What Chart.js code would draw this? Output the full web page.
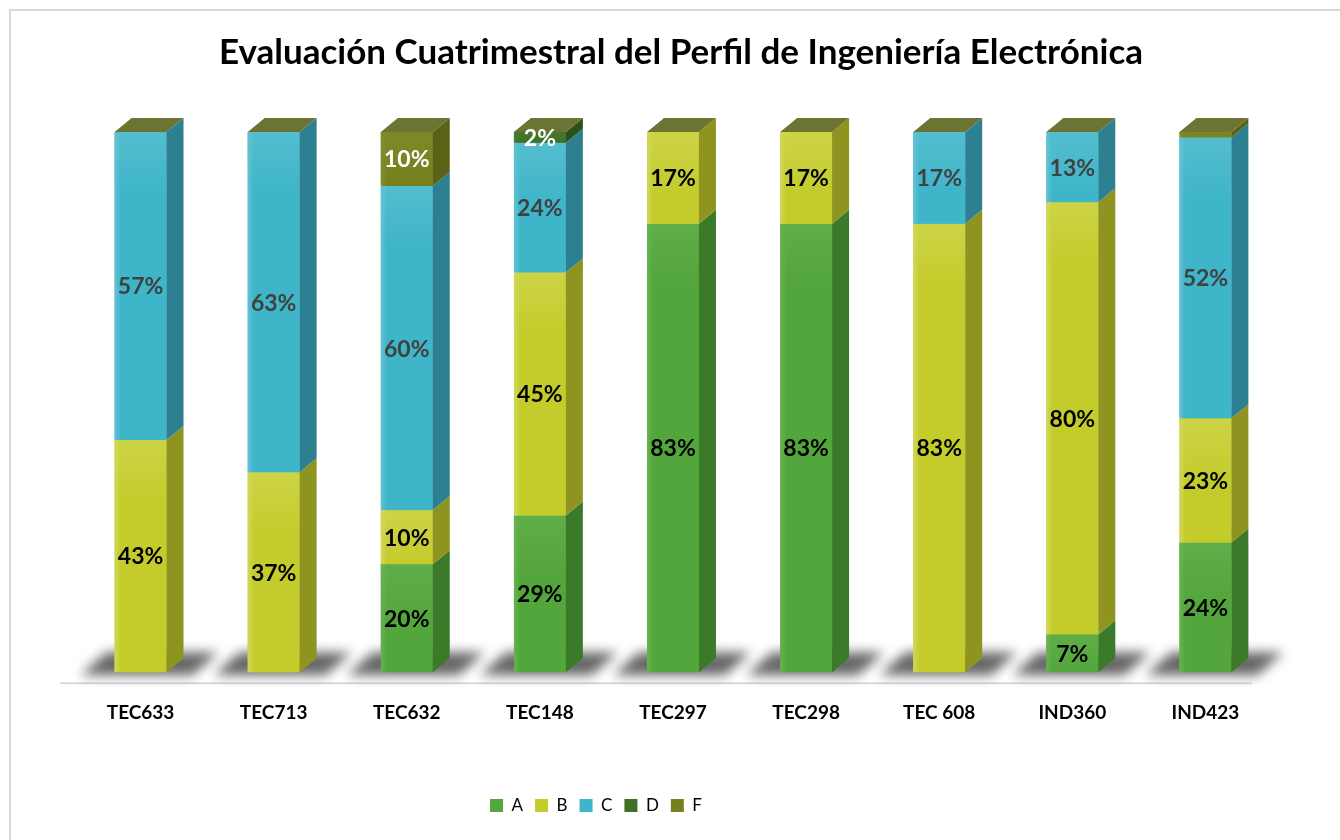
<!DOCTYPE html>
<html>
<head>
<meta charset="utf-8">
<script src="https://cdn.jsdelivr.net/npm/chart.js@4.4.0/dist/chart.umd.min.js"></script>
<style>
  html, body { margin: 0; padding: 0; background: #fff; }
  #wrap { width: 1340px; height: 840px; position: relative; }
</style>
</head>
<body>
<div id="wrap"><canvas id="c" width="1340" height="840"></canvas></div>
<script>
const categories = ['TEC633', 'TEC713', 'TEC632', 'TEC148', 'TEC297', 'TEC298', 'TEC 608', 'IND360', 'IND423'];
const seriesA = [0, 0, 20, 29, 83, 83, 0, 7, 24];
const seriesB = [43, 37, 10, 45, 17, 17, 83, 80, 23];
const seriesC = [57, 63, 60, 24, 0, 0, 17, 13, 52];
const seriesD = [0, 0, 0, 2, 0, 0, 0, 0, 0];
const seriesF = [0, 0, 10, 0, 0, 0, 0, 0, 1];
const seriesNames = ['A', 'B', 'C', 'D', 'F'];
const titleText = 'Evaluación Cuatrimestral del Perfil de Ingeniería Electrónica';

const FONT = 'Lato, "Open Sans", sans-serif';
const styles = [
  { front: '#53a63b', light: '#68b252', side: '#3a7a29', label: '#000000' },
  { front: '#c4cc2c', light: '#d2d858', side: '#8e941f', label: '#000000' },
  { front: '#3fb5c9', light: '#62c2d3', side: '#2d8092', label: '#404040' },
  { front: '#3e7128', light: '#4a7d33', side: '#2c521c', label: '#ffffff' },
  { front: '#76801f', light: '#838d2c', side: '#5a6216', label: '#ffffff' }
];
const TOP_FACE = '#6b7432';
const DX = 17, DY = -14;
const LEGEND_SHIFT = -77;
const TITLE_SHIFT = 8;

const allSeries = [seriesA, seriesB, seriesC, seriesD, seriesF];

const bar3d = {
  id: 'bar3d',
  afterLayout(chart) {
    if (chart.legend) {
      chart.legend.left += LEGEND_SHIFT;
      chart.legend.right += LEGEND_SHIFT;
    }
    if (chart.titleBlock) {
      chart.titleBlock.left += TITLE_SHIFT;
      chart.titleBlock.right += TITLE_SHIFT;
    }
  },
  beforeDraw(chart) {
    const ctx = chart.ctx;
    ctx.save();
    ctx.strokeStyle = '#d9d9d9';
    ctx.lineWidth = 2;
    ctx.strokeRect(10, 10, 1400, 900);
    ctx.restore();
  },
  beforeDatasetsDraw(chart) {
    const ctx = chart.ctx;
    const meta0 = chart.getDatasetMeta(0);
    const area = chart.chartArea;
    ctx.save();
    ctx.strokeStyle = '#d9d9d9';
    ctx.lineWidth = 2;
    ctx.beginPath();
    ctx.moveTo(60, area.bottom + 11);
    ctx.lineTo(1252, area.bottom + 11);
    ctx.stroke();
    ctx.restore();
    meta0.data.forEach(el => {
      const w = el.width;
      const l = el.x - w / 2, r = el.x + w / 2;
      const b = area.bottom;
      ctx.save();
      ctx.filter = 'blur(6px)';
      ctx.fillStyle = 'rgba(0,0,0,0.6)';
      ctx.beginPath();
      ctx.moveTo(l - 34, b + 3);
      ctx.lineTo(r + 26, b + 3);
      ctx.lineTo(r + 52, b - 20);
      ctx.lineTo(l - 8, b - 20);
      ctx.closePath();
      ctx.fill();
      ctx.restore();
    });
  },
  afterDatasetsDraw(chart) {
    const ctx = chart.ctx;
    const n = chart.data.labels.length;
    for (let i = 0; i < n; i++) {
      let topY = null, topL = 0, topR = 0;
      chart.data.datasets.forEach((ds, di) => {
        const el = chart.getDatasetMeta(di).data[i];
        const w = el.width;
        const l = el.x - w / 2, r = el.x + w / 2;
        const yt = Math.min(el.y, el.base), yb = Math.max(el.y, el.base);
        topL = l; topR = r;
        if (topY === null || yt < topY) topY = yt;
        if (yb - yt < 0.01) return;
        const g = ctx.createLinearGradient(l, 0, r, 0);
        g.addColorStop(0, styles[di].light);
        g.addColorStop(0.12, styles[di].front);
        g.addColorStop(1, styles[di].front);
        ctx.fillStyle = g;
        ctx.fillRect(l, yt, w, yb - yt);
        const gv = ctx.createLinearGradient(0, yt, 0, Math.min(yb, yt + 60));
        gv.addColorStop(0, styles[di].light + '99');
        gv.addColorStop(1, styles[di].light + '00');
        ctx.fillStyle = gv;
        ctx.fillRect(l, yt, w, Math.min(yb - yt, 60));
        ctx.fillStyle = styles[di].side;
        ctx.beginPath();
        ctx.moveTo(r, yb);
        ctx.lineTo(r, yt);
        ctx.lineTo(r + DX, yt + DY);
        ctx.lineTo(r + DX, yb + DY);
        ctx.closePath();
        ctx.fill();
      });
      ctx.fillStyle = TOP_FACE;
      ctx.beginPath();
      ctx.moveTo(topL, topY);
      ctx.lineTo(topR, topY);
      ctx.lineTo(topR + DX, topY + DY);
      ctx.lineTo(topL + DX, topY + DY);
      ctx.closePath();
      ctx.fill();
    }
    ctx.save();
    ctx.font = 'bold 23px ' + FONT;
    ctx.textAlign = 'center';
    ctx.textBaseline = 'middle';
    chart.data.datasets.forEach((ds, di) => {
      chart.getDatasetMeta(di).data.forEach((el, i) => {
        const v = ds.data[i];
        if (v < 2) return;
        const yc = (el.y + el.base) / 2;
        ctx.fillStyle = styles[di].label;
        ctx.fillText(v + '%', el.x, yc + 1);
      });
    });
    ctx.restore();
  }
};

new Chart(document.getElementById('c'), {
  type: 'bar',
  data: {
    labels: categories,
    datasets: allSeries.map((s, i) => ({
      label: seriesNames[i],
      data: s,
      backgroundColor: styles[i].front,
      borderWidth: 0,
      barPercentage: 0.78,
      categoryPercentage: 0.5
    }))
  },
  options: {
    responsive: false,
    animation: false,
    layout: { padding: { left: 74, right: 68, bottom: 16 } },
    plugins: {
      title: {
        display: true,
        text: titleText,
        color: '#000',
        font: { family: FONT, size: 35, weight: 'bold' },
        padding: { top: 32, bottom: 58 }
      },
      legend: {
        position: 'bottom',
        labels: {
          color: '#000',
          font: { family: FONT, size: 17 },
          boxWidth: 13,
          boxHeight: 13,
          padding: 12,
          generateLabels(chart) {
            return chart.data.datasets.map((ds, i) => ({
              text: ds.label,
              fillStyle: styles[i].front,
              strokeStyle: styles[i].front,
              lineWidth: 0,
              datasetIndex: i,
              fontColor: '#000'
            }));
          }
        }
      },
      tooltip: { enabled: false }
    },
    scales: {
      x: {
        stacked: true,
        grid: { display: false },
        border: { display: false },
        ticks: { color: '#000', font: { family: FONT, size: 19, weight: 'bold' }, padding: 21 },
        afterFit(scale) { scale.height += 40; }
      },
      y: {
        stacked: true,
        display: false,
        min: 0,
        max: 100
      }
    }
  },
  plugins: [bar3d]
});
</script>
</body>
</html>
